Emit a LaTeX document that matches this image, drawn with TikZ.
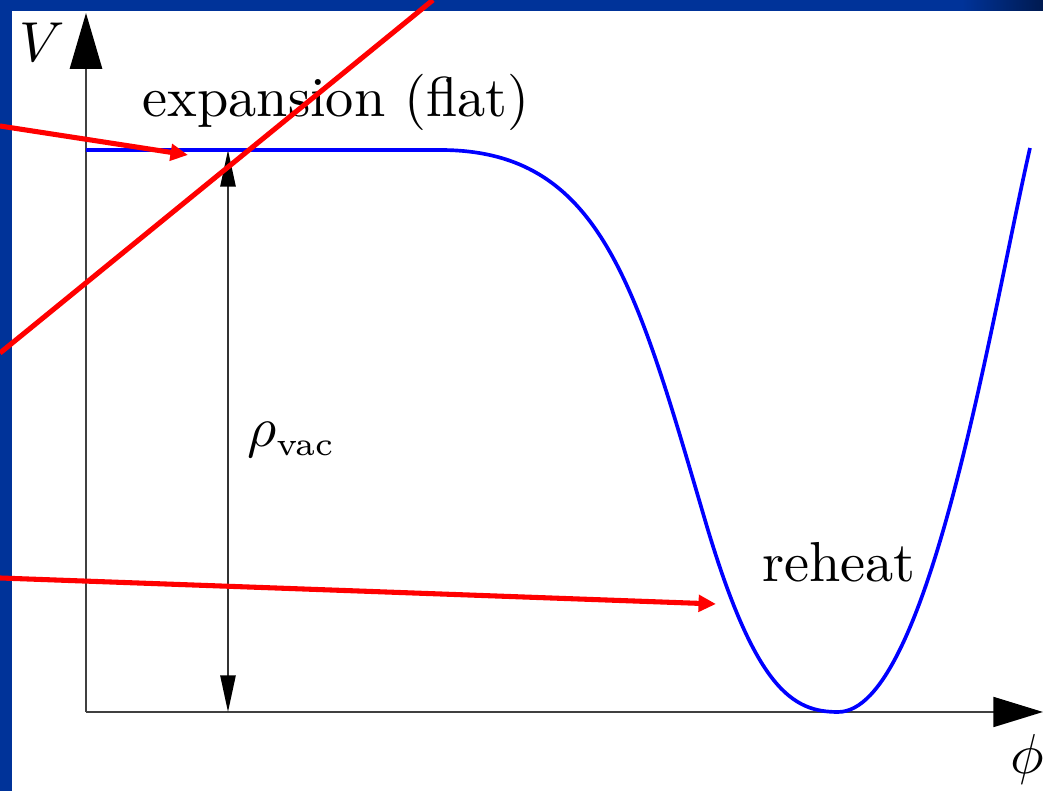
\documentclass[tikz,border=0pt]{standalone}
\usetikzlibrary{arrows.meta}
\definecolor{bandblue}{RGB}{0,51,153}
\definecolor{banddark}{RGB}{0,26,80}
\tikzset{
  axisline/.style={draw=black!75, line width=0.4pt},
  bigtipv/.style={-{Triangle[length=9.9pt,width=5.7pt,black]}},
  bigtiph/.style={-{Triangle[length=8.8pt,width=5.3pt,black]}},
  dimline/.style={draw=black!80, line width=0.35pt, {Triangle[length=6.5pt,width=2.7pt,black]}-{Triangle[length=6.5pt,width=2.7pt,black]}},
  potential/.style={draw=blue, line width=0.65pt},
  redline/.style={draw=red, line width=0.9pt},
  redarrow/.style={redline, -{Triangle[length=3.1pt,width=2.9pt]}},
  lbl/.style={inner sep=0pt, anchor=base}
}
\begin{document}
\begin{tikzpicture}[x=0.1775pt, y=-0.1775pt]
\useasboundingbox (0,0) rectangle (1043,791);
\fill[white] (0,0) rectangle (1043,791);
% frame bands
\fill[bandblue] (0,0) rectangle (963,11);
\shade[left color=bandblue, right color=banddark] (962,0) rectangle (1043,11);
\fill[bandblue] (0,0) rectangle (12,791);
% axes
\coordinate (O) at (86,712);
\coordinate (Vtop) at (86,13);
\coordinate (Xend) at (1043,712);
\draw[axisline, bigtipv] (O) -- (Vtop);
\draw[axisline, bigtiph] (O) -- (Xend);
% dimension arrow
\coordinate (Dtop) at (228,150);
\coordinate (Dbot) at (228,712);
\draw[dimline] (Dbot) -- (Dtop);
% potential curve
\draw[potential] (86,150) -- (440,150)
  .. controls (600,150) and (635,282) .. (705,520)
  .. controls (755,690) and (793,712) .. (838,712)
  .. controls (928,712) and (990,324) .. (1030,148);
% labels
\node[lbl] (V) at (42,62) {$V$};
\node[lbl] (exp) at (336,117) {expansion (flat)};
\node[lbl, anchor=base west] (rho) at (246,447) {$\rho_{\mbox{\fontsize{5.8}{6}\selectfont vac}}$};
\node[lbl] (reheat) at (839,582) {reheat};
\node[lbl] (phi) at (1027,774) {$\phi$};
% red annotation lines
\coordinate (r1s) at (0,126);
\coordinate (r1e) at (188,155);
\coordinate (r2s) at (0,353);
\coordinate (r2e) at (433,0);
\coordinate (r3s) at (0,578);
\coordinate (r3e) at (716,604);
\draw[redarrow] (r1s) -- (r1e);
\draw[redline] (r2s) -- (r2e);
\draw[redarrow] (r3s) -- (r3e);
\end{tikzpicture}
\end{document}
